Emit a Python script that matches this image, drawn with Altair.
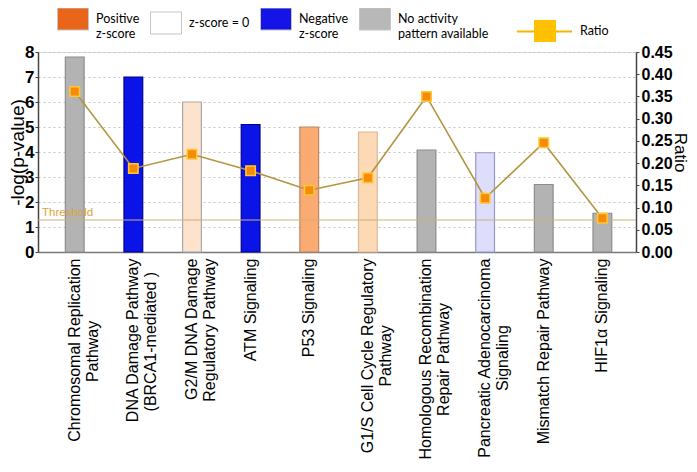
import altair as alt
import pandas as pd

NB = "\u00a0"
ZW = "\u200b"

# --- data ---
pathways = [
    "Chromosomal Replication\nPathway" + NB * 14 + ZW,
    "DNA Damage Pathway\n(BRCA1-mediated )" + NB * 3 + ZW,
    "G2/M DNA Damage\nRegulatory Pathway",
    "ATM Signaling",
    "P53 Signaling",
    "G1/S Cell Cycle Regulatory\nPathway" + NB * 15 + ZW,
    "Homologous Recombination\nRepair Pathway" + NB * 10 + ZW,
    "Pancreatic Adenocarcinoma\nSignaling" + NB * 15 + ZW,
    "Mismatch Repair Pathway",
    "HIF1\u03b1 Signaling",
]
neg_log_p = [7.8, 7.0, 6.0, 5.1, 5.0, 4.8, 4.08, 3.97, 2.7, 1.55]
ratio = [0.361, 0.188, 0.22, 0.183, 0.139, 0.167, 0.35, 0.121, 0.246, 0.076]
bar_fill = ["#b3b3b3", "#0a14e6", "#fde3cd", "#0a14e6", "#f9ab72",
            "#fdd9b6", "#b3b3b3", "#dedefc", "#b3b3b3", "#b3b3b3"]
bar_stroke = ["#8c8c8c", "#00008a", "#a8a8a8", "#00008a", "#b88a6a",
              "#d8b89a", "#8c8c8c", "#9898c8", "#8c8c8c", "#8c8c8c"]
threshold = 1.28

legend_labels = ["Positive\nz-score", "z-score = 0", "Negative\nz-score",
                 "No activity\npattern available"]
legend_fill = ["#e8651a", "#ffffff", "#1414e6", "#b8b8b8"]

left_ticks = [0, 1, 2, 3, 4, 5, 6, 7, 8]
right_ticks = [0.0, 0.05, 0.1, 0.15, 0.2, 0.25, 0.3, 0.35, 0.4, 0.45]

df = pd.DataFrame({"pathway": pathways, "p": neg_log_p, "ratio": ratio,
                   "fill": bar_fill, "stroke": bar_stroke})
leg_df = pd.DataFrame({"cat": legend_labels})
ratio_df = pd.DataFrame({"s": ["Ratio"], "s_line": ["Ratio line"]})
thr_df = pd.DataFrame({"t": [threshold], "label": ["Threshold"]})

FONT = "Liberation Sans"
LFONT = "Lato"

xenc = alt.X("pathway:N", sort=pathways, title=None,
             scale=alt.Scale(paddingInner=0.68, paddingOuter=0.44, align=0.53),
             axis=alt.Axis(labelAngle=270, labelAlign="right", labelBaseline="middle",
                           labelExpr="split(datum.label, '\\n')",
                           labelFont=FONT, labelFontSize=16, labelColor="#000",
                           labelLineHeight=18, labelLimit=0, labelOverlap=False,
                           labelPadding=6, ticks=False, domainColor="#7a7a7a",
                           domainWidth=1.5))

left_scale = alt.Scale(domain=[0, 8], nice=False, zero=True)
right_scale = alt.Scale(domain=[0, 0.45], nice=False, zero=True)

bars = alt.Chart(df).mark_bar(strokeWidth=1.2).encode(
    x=xenc,
    y=alt.Y("p:Q", scale=left_scale,
            axis=alt.Axis(title="-log(p-value)", values=left_ticks, format="d",
                          labelFont=FONT, labelFontSize=17, labelFontWeight="bold",
                          labelColor="#000", labelPadding=1, tickSize=3,
                          tickColor="#444", domainColor="#444", domainWidth=1.5,
                          grid=True, gridDash=[2, 3], gridColor="#c4c4c4",
                          titleFont=FONT, titleFontSize=19, titleFontWeight="normal",
                          titleColor="#000", titleAngle=270, titleX=-21, titleY=100,
                          titleAlign="center", titleBaseline="middle")),
    fill=alt.Fill("fill:N", scale=None),
    stroke=alt.Stroke("stroke:N", scale=None),
)

thr_rule = alt.Chart(thr_df).mark_rule(color="#cdb07a", strokeWidth=1).encode(
    y=alt.Y("t:Q", scale=left_scale, axis=None))
thr_text = alt.Chart(thr_df).mark_text(
    align="left", baseline="bottom", dy=-2, font=FONT, fontSize=11.5,
    color="#d9a53a").encode(
    x=alt.value(4), y=alt.Y("t:Q", scale=left_scale, axis=None), text="label:N")

line = alt.Chart(df).mark_line(color="#b39540", strokeWidth=1.6).encode(
    x=alt.X("pathway:N", sort=pathways),
    y=alt.Y("ratio:Q", scale=right_scale,
            axis=alt.Axis(orient="right", title="Ratio", values=right_ticks,
                          format=".2f", labelFont=FONT, labelFontSize=16,
                          labelFontWeight="bold", labelColor="#000", labelPadding=2,
                          tickSize=3, tickColor="#444", domainColor="#444",
                          domainWidth=1.5, grid=False,
                          titleFont=FONT, titleFontSize=17, titleFontWeight="normal",
                          titleColor="#000", titleAngle=90, titleX=43, titleY=100,
                          titleAlign="center", titleBaseline="middle")),
)
points = alt.Chart(df).mark_point(shape="square", filled=True, size=90,
                                  fill="#f68a0c", stroke="#ffc830",
                                  strokeWidth=1.5, opacity=1).encode(
    x=alt.X("pathway:N", sort=pathways),
    y=alt.Y("ratio:Q", scale=right_scale, axis=None),
)

# legends: dummy layers with no drawn rows (scale domains are explicit)
rect_path = "M-1,-0.71H1V0.71H-1Z"
leg_layer = alt.Chart(leg_df).transform_filter("datum.cat == null").mark_point(
    filled=True, shape=rect_path, stroke="#c4c4c4", strokeWidth=1).encode(
    fill=alt.Fill("cat:N", sort=legend_labels,
                  scale=alt.Scale(domain=legend_labels, range=legend_fill),
                  legend=alt.Legend(title=None, orient="none", legendX=19, legendY=-49,
                                    direction="horizontal", symbolType=rect_path,
                                    symbolSize=961, symbolStrokeWidth=1,
                                    symbolStrokeColor="#c4c4c4", symbolOpacity=1,
                                    labelExpr="split(datum.label, '\\n')",
                                    labelFont=LFONT, labelFontSize=12.5,
                                    labelColor="#000", labelOffset=7,
                                    columnPadding=8, padding=0, labelLimit=0)),
)

# Ratio legend: line part (strokeDash legend) + square part (shape legend)
ratio_line_leg = alt.Chart(ratio_df).transform_filter("datum.s_line == null").mark_line(
    color="#f5b400", strokeWidth=2).encode(
    strokeDash=alt.StrokeDash("s_line:N",
                              scale=alt.Scale(domain=["Ratio line"], range=[[1, 0]]),
                              legend=alt.Legend(title=None, orient="none",
                                                legendX=478, legendY=-49,
                                                symbolType="M-1,0H1", symbolSize=3025,
                                                symbolStrokeColor="#f5b400",
                                                symbolStrokeWidth=2, symbolOpacity=1,
                                                labelExpr="''", padding=0)),
)
square_path = "M-0.4,-0.4H0.4V0.4H-0.4Z"
ratio_sq_leg = alt.Chart(ratio_df).transform_filter("datum.s == null").mark_point(
    filled=True, fill="#ffc000", stroke="#f0a800", strokeWidth=1).encode(
    shape=alt.Shape("s:N", scale=alt.Scale(domain=["Ratio"], range=[square_path]),
                    legend=alt.Legend(title=None, orient="none", legendX=479, legendY=-49,
                                      symbolSize=3025, symbolFillColor="#ffc000",
                                      symbolStrokeColor="#f0a800", symbolStrokeWidth=1,
                                      symbolOpacity=1,
                                      labelFont=LFONT, labelFontSize=12.5,
                                      labelColor="#000", labelOffset=7, padding=0)),
)

chart = alt.layer(bars, thr_rule, thr_text, line, points, leg_layer,
                  ratio_line_leg, ratio_sq_leg).resolve_scale(
    y="independent"
).properties(
    width=598, height=200,
    autosize=alt.AutoSizeParams(type="none"),
    padding={"left": 30, "top": 44, "right": 53, "bottom": 212},
).configure_view(stroke=None).configure(background="white")

chart.save("out.html", embed_options={"renderer": "svg", "actions": False})
